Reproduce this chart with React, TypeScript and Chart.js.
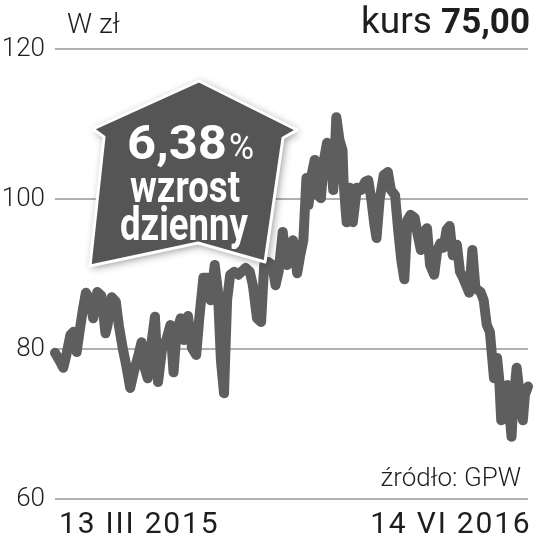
import { useEffect, useRef } from "react";
import { Chart, registerables } from "chart.js";

Chart.register(...registerables);

// days since 13 III 2015
const days = [
  0, 5, 8, 11, 15, 18, 21, 24, 27, 30,
  34, 37, 41, 45, 49, 51, 55, 59, 62, 66,
  69, 73, 77, 81, 84, 87, 90, 94, 97, 100,
  104, 108, 112, 115, 118, 122, 125, 129, 133, 137,
  140, 144, 148, 151, 155, 158, 161, 164, 167, 170,
  174, 178, 181, 185, 189, 192, 196, 200, 203, 207,
  211, 214, 217, 221, 225, 228, 231, 235, 238, 241,
  244, 246, 249, 252, 255, 258, 261, 264, 267, 270,
  273, 276, 279, 280, 283, 286, 289, 293, 297, 301,
  304, 307, 310, 312, 315, 319, 323, 326, 330, 333,
  336, 339, 342, 345, 349, 352, 355, 358, 361, 364,
  368, 371, 374, 377, 380, 383, 386, 390, 393, 396,
  399, 402, 405, 408, 410, 413, 416, 419, 422, 424,
  426, 429, 431, 433, 436, 439, 442, 443, 445, 448,
  451, 454, 456, 459,
];

// price in zł
const prices = [
  79.5, 78.3, 77.5, 79.2, 81.9, 82.3, 79.6, 82.5, 85.2, 87.5,
  86.5, 84.1, 87.6, 87.1, 82.1, 83.2, 86.9, 86.3, 83.1, 79.9,
  77.9, 74.8, 77.2, 79.2, 80.9, 77.5, 76.1, 81.2, 84.3, 75.6,
  80.1, 81.2, 83.2, 76.9, 82.3, 84.1, 81.2, 84.4, 80.1, 79.2,
  84.1, 89.5, 89.5, 86.5, 91.2, 87.9, 78.5, 74.1, 86.5, 89.9,
  90.3, 89.9, 90.3, 90.8, 90.3, 88.5, 84.1, 83.6, 91.2, 91.6,
  91.2, 88.5, 90.3, 95.6, 91.2, 93.9, 94.5, 90.1, 92.5, 94.5,
  102.8, 99.2, 103.2, 105.2, 100.5, 100.1, 105.2, 107.5, 106.5, 101.2,
  110.9, 107.9, 106.5, 102.3, 96.9, 101.5, 96.9, 101.5, 101.2, 102.3,
  102.5, 99.9, 96.5, 94.8, 99.9, 103.2, 103.6, 101.2, 100.5, 95.9,
  91.9, 89.3, 97.2, 97.9, 97.5, 95.2, 93.2, 95.6, 96.1, 91.2,
  89.9, 93.2, 94.1, 93.5, 95.9, 96.4, 92.5, 93.9, 90.3, 89.5,
  88.5, 87.5, 93.2, 88.1, 87.9, 87.6, 86.5, 83.2, 82.3, 79.2,
  76.1, 78.8, 76.1, 70.5, 74.5, 75.2, 69.9, 68.3, 73.2, 77.5,
  73.9, 70.5, 73.9, 75.0,
];

const yTicks = [60, 80, 100, 120];
const dateLabels = ["13 III 2015", "14 VI 2016"];
const dateDays = [0, 459];
const unitLabel = "W zł";
const lastLabel = "kurs ";
const lastValue = "75,00";
const sourceLabel = "źródło: GPW";
const badgeValue = "6,38";
const badgePct = "%";
const badgeLines = ["wzrost", "dzienny"];

const TEXT = "#1e1e1e";

function drawFitted(
  ctx: CanvasRenderingContext2D,
  text: string,
  font: string,
  x: number,
  y: number,
  width: number,
  align: CanvasTextAlign
) {
  ctx.font = font;
  const w = ctx.measureText(text).width;
  ctx.save();
  ctx.translate(x, y);
  ctx.scale(width / w, 1);
  ctx.textAlign = align;
  ctx.fillText(text, 0, 0);
  ctx.restore();
}

export default function App() {
  const ref = useRef<HTMLCanvasElement>(null);

  useEffect(() => {
    const overlay = {
      id: "overlay",
      afterDatasetsDraw(chart: any) {
        const ctx = chart.ctx as CanvasRenderingContext2D;
        ctx.save();
        const pts = [
          [199, 81], [297, 130], [283, 138], [265, 262],
          [198, 243], [90, 266], [104, 137], [93, 129],
        ];
        ctx.beginPath();
        pts.forEach(([x, y], i) => (i ? ctx.lineTo(x, y) : ctx.moveTo(x, y)));
        ctx.closePath();
        ctx.lineJoin = "round";
        ctx.shadowColor = "rgba(0,0,0,0.45)";
        ctx.shadowBlur = 8;
        ctx.shadowOffsetX = 2;
        ctx.shadowOffsetY = 2;
        ctx.fillStyle = "#555555";
        ctx.fill();
        ctx.shadowColor = "transparent";
        ctx.shadowBlur = 0;
        ctx.strokeStyle = "#ffffff";
        ctx.lineWidth = 3;
        ctx.stroke();

        ctx.fillStyle = "#ffffff";
        ctx.textBaseline = "alphabetic";
        drawFitted(ctx, badgeValue, "bold 48px Roboto", 127, 159, 100, "left");
        drawFitted(ctx, badgePct, "400 37px Roboto", 229, 159, 25, "left");
        drawFitted(ctx, badgeLines[0], "bold 45px Roboto", 185, 202, 110, "center");
        drawFitted(ctx, badgeLines[1], "bold 46px Roboto", 184, 240, 128, "center");
        ctx.restore();
      },
      afterDraw(chart: any) {
        const ctx = chart.ctx as CanvasRenderingContext2D;
        const xs = chart.scales.x;
        ctx.save();
        ctx.fillStyle = TEXT;
        ctx.textBaseline = "alphabetic";

        ctx.textAlign = "left";
        ctx.font = "300 28px Roboto";
        ctx.fillText(unitLabel, 67, 33);

        ctx.font = "bold 35px Roboto";
        const wv = ctx.measureText(lastValue).width;
        ctx.textAlign = "right";
        ctx.fillText(lastValue, 530, 33);
        drawFitted(ctx, lastLabel, "400 37px Roboto", 530 - wv, 33, 80, "right");

        ctx.textAlign = "right";
        ctx.font = "300 26px Roboto";
        ctx.fillText(sourceLabel, 521, 486);

        ctx.font = "400 30px Roboto";
        (ctx as any).letterSpacing = "1.8px";
        ctx.textAlign = "left";
        const x0 = xs.getPixelForValue(dateDays[0]);
        ctx.fillText(dateLabels[0], x0 + 4, 533);
        const x1 = xs.getPixelForValue(dateDays[1]);
        const wd = ctx.measureText(dateLabels[1]).width;
        ctx.fillText(dateLabels[1], x1 + 3.5 - wd, 533);
        ctx.restore();
      },
    };

    const chart = new Chart(ref.current as HTMLCanvasElement, {
      type: "line",
      data: {
        datasets: [
          {
            data: days.map((d, i) => ({ x: d, y: prices[i] })),
            borderColor: "#5e5e5e",
            borderWidth: 10,
            borderJoinStyle: "round",
            borderCapStyle: "round",
            pointRadius: 0,
            tension: 0,
            clip: false,
          } as any,
        ],
      },
      options: {
        responsive: false,
        animation: false,
        devicePixelRatio: 1,
        layout: { padding: { top: 49, bottom: 52, right: 5, left: 0 } },
        plugins: { legend: { display: false }, tooltip: { enabled: false } },
        scales: {
          x: { type: "linear", min: 0, max: 459, display: false },
          y: {
            min: 60,
            max: 120,
            afterBuildTicks: (s: any) => {
              s.ticks = yTicks.map((v) => ({ value: v }));
            },
            afterFit: (s: any) => {
              s.width = 55;
            },
            grid: { color: "#b0b0b0", lineWidth: 2, drawTicks: false },
            border: { display: false },
            ticks: {
              padding: 10,
              color: TEXT,
              font: { family: "Roboto", size: 26, weight: "300" },
            },
          },
        },
      },
      plugins: [overlay],
    });
    return () => chart.destroy();
  }, []);

  return (
    <div style={{ position: "absolute", left: 0, top: 0, width: 533, height: 551, background: "#fff" }}>
      <canvas ref={ref} width={533} height={551} style={{ display: "block" }} />
    </div>
  );
}
